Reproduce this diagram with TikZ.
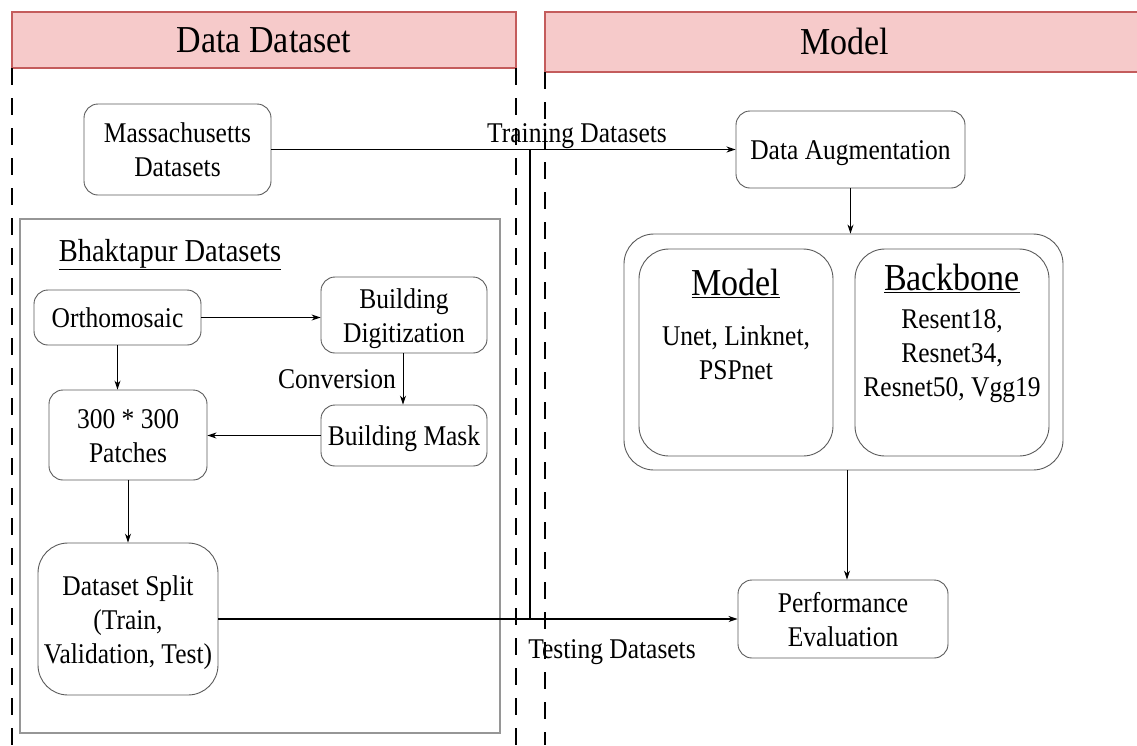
\documentclass[tikz,border=0pt]{standalone}
\usepackage{fontspec}
\setmainfont{Liberation Serif}
\usetikzlibrary{arrows.meta}
\definecolor{hdrfill}{RGB}{246,202,202}
\definecolor{hdrline}{RGB}{196,92,92}
\definecolor{boxline}{RGB}{90,90,90}
\definecolor{grpline}{RGB}{150,150,150}
\newcommand{\tx}[1]{\raisebox{-3.5pt}[\height][\depth]{\scalebox{1}[1.12]{\begin{tabular}{@{}c@{}}#1\end{tabular}}}}
\tikzset{
  txt/.style={font=\fontsize{25.5}{30.4}\selectfont, align=center, inner sep=0pt},
  bigtxt/.style={font=\fontsize{34}{38}\selectfont, align=center, inner sep=0pt},
  rbox/.style={draw=boxline, line width=0.9pt, rounded corners=14pt, txt},
  bigbox/.style={draw=boxline, line width=0.9pt, rounded corners=30pt},
  hdr/.style={draw=hdrline, fill=hdrfill, line width=1.6pt, bigtxt},
  sep/.style={line width=1.8pt, dash pattern=on 17pt off 13pt},
  arr/.style={line width=1pt, -{Stealth[length=9pt,width=6pt]}},
  ln/.style={line width=1.4pt},
}
\begin{document}
\begin{tikzpicture}[x=1pt,y=-1pt]
\useasboundingbox (0,0) rectangle (1137,745);
% headers
\node[hdr, minimum width=504pt, minimum height=56pt] (h1) at (264,40) {\tx{Data Dataset}};
\node[hdr, minimum width=600pt, minimum height=60pt] (h2) at (845,42) {\tx{Model}};
% dashed separators
\coordinate (d1a) at (12,68); \coordinate (d1b) at (12,745);
\coordinate (d2a) at (516,68); \coordinate (d2b) at (516,745);
\coordinate (d3a) at (545,72); \coordinate (d3b) at (545,745);
\draw[sep] (d1a) -- (d1b);
\draw[sep] (d2a) -- (d2b);
\draw[sep] (d3a) -- (d3b);
% Bhaktapur group
\node[draw=grpline, line width=1.2pt, minimum width=480pt, minimum height=514pt, inner sep=0pt] (grp) at (260,476) {};
\node[txt, font=\fontsize{28.5}{34}\selectfont] (grpt) at (170,250) {\tx{\underline{Bhaktapur Datasets}}};
% nodes
\node[rbox, minimum width=187pt, minimum height=91pt] (mass) at (177.5,149.5) {\tx{Massachusetts\\Datasets}};
\node[rbox, minimum width=229pt, minimum height=77pt] (aug) at (850.5,149.5) {\tx{Data Augmentation}};
\node[rbox, minimum width=167pt, minimum height=55pt] (ortho) at (117.5,317.5) {\tx{Orthomosaic}};
\node[rbox, minimum width=166pt, minimum height=76pt] (dig) at (404,315) {\tx{Building\\Digitization}};
\node[rbox, minimum width=166pt, minimum height=61pt] (mask) at (404,435.5) {\tx{Building Mask}};
\node[rbox, minimum width=158pt, minimum height=90pt] (patch) at (128,435) {\tx{300 * 300\\Patches}};
\node[rbox, rounded corners=30pt, minimum width=180pt, minimum height=152pt] (split) at (128,619) {\tx{Dataset Split\\(Train,\\Validation, Test)}};
\node[rbox, minimum width=210pt, minimum height=78pt] (perf) at (843,619) {\tx{Performance\\Evaluation}};
% model block
\node[bigbox, minimum width=439pt, minimum height=236pt] (outer) at (843.5,352) {};
\node[bigbox, minimum width=194pt, minimum height=207pt] (mbox) at (736,352.5) {};
\node[bigbox, minimum width=194pt, minimum height=207pt] (bbox) at (952,352.5) {};
\node[bigtxt] (mt) at (736,283) {\tx{\underline{Model}}};
\node[txt] (ml) at (736,352) {\tx{Unet, Linknet,\\PSPnet}};
\node[bigtxt] (bt) at (952,278) {\tx{\underline{Backbone}}};
\node[txt] (bl) at (952,352) {\tx{Resent18,\\Resnet34,\\Resnet50, Vgg19}};
% labels
\node[txt] (lt) at (577,132) {\tx{Training Datasets}};
\node[txt] (ltest) at (612,648) {\tx{Testing Datasets}};
\node[txt] (lconv) at (337,378) {\tx{Conversion}};
% connectors
\coordinate (j1) at (530,150);
\coordinate (j2) at (530,619);
\draw[ln] (j1) -- (j2);
\draw[arr, line width=1.4pt] (mass.east) -- (aug.west);
\draw[arr, line width=1.4pt] (split.east) -- (perf.west);
\draw[arr] (aug.south) -- (outer.north -| aug.south);
\draw[arr] ([xshift=3.5pt]outer.south) -- ([xshift=3.5pt]outer.south |- perf.north);
\draw[arr] (ortho.east) -- (ortho.east -| dig.west);
\draw[arr] ([xshift=-1pt]dig.south) -- ([xshift=-1pt]mask.north);
\draw[arr] (mask.west) -- (mask.west -| patch.east);
\draw[arr] (ortho.south) -- (ortho.south |- patch.north);
\draw[arr] (patch.south) -- (split.north);
\end{tikzpicture}
\end{document}
